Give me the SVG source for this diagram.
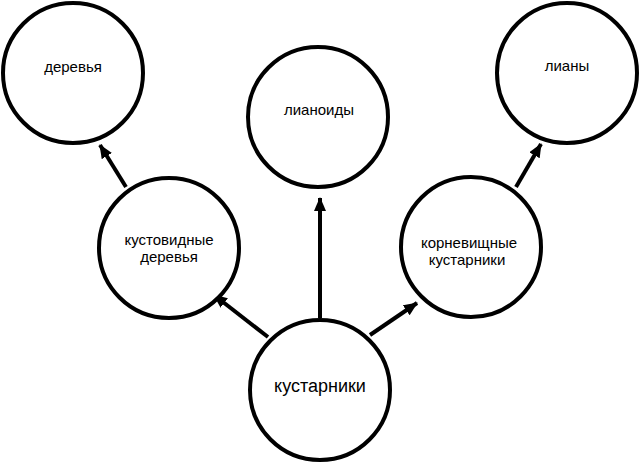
<svg xmlns="http://www.w3.org/2000/svg" width="640" height="464" viewBox="0 0 640 464">
  <style>
    .node circle { fill: #ffffff; stroke: #000000; stroke-width: 4; }
    .node text { font-family: "Liberation Sans", Arial, sans-serif; font-size: 15px; fill: #000000; text-anchor: middle; }
    .node text.big { font-size: 18px; }
    .edges line { stroke: #000000; stroke-width: 4; marker-end: url(#arrow); }
  </style>
  <defs>
    <marker id="arrow" markerUnits="userSpaceOnUse" markerWidth="14" markerHeight="12" refX="13" refY="6" orient="auto">
      <path d="M0,0 L14,6 L0,12 Z" fill="#000000"/>
    </marker>
  </defs>

  <rect width="640" height="464" fill="#ffffff"/>

  <!-- connectors -->
  <g class="edges">
    <line x1="126" y1="187" x2="100" y2="145"/>
    <line x1="320" y1="318" x2="320" y2="198"/>
    <line x1="268" y1="337" x2="214" y2="295"/>
    <line x1="370" y1="335" x2="417" y2="303"/>
    <line x1="516" y1="187" x2="541" y2="144"/>
  </g>

  <!-- nodes -->
  <g id="derevya" class="node">
    <circle cx="73" cy="73" r="70"/>
    <text x="73" y="72">деревья</text>
  </g>
  <g id="lianoidy" class="node">
    <circle cx="318" cy="117" r="70"/>
    <text x="319" y="115">лианоиды</text>
  </g>
  <g id="liany" class="node">
    <circle cx="567" cy="73" r="70"/>
    <text x="567" y="71">лианы</text>
  </g>
  <g id="kustovidnye" class="node">
    <circle cx="169" cy="248" r="70"/>
    <text x="169" y="245">кустовидные</text>
    <text x="169" y="262">деревья</text>
  </g>
  <g id="kornevishchnye" class="node">
    <circle cx="471" cy="247" r="70"/>
    <text x="469" y="248">корневищные</text>
    <text x="467" y="265">кустарники</text>
  </g>
  <g id="kustarniki" class="node">
    <circle cx="320" cy="390" r="70"/>
    <text class="big" x="320" y="392">кустарники</text>
  </g>
</svg>
